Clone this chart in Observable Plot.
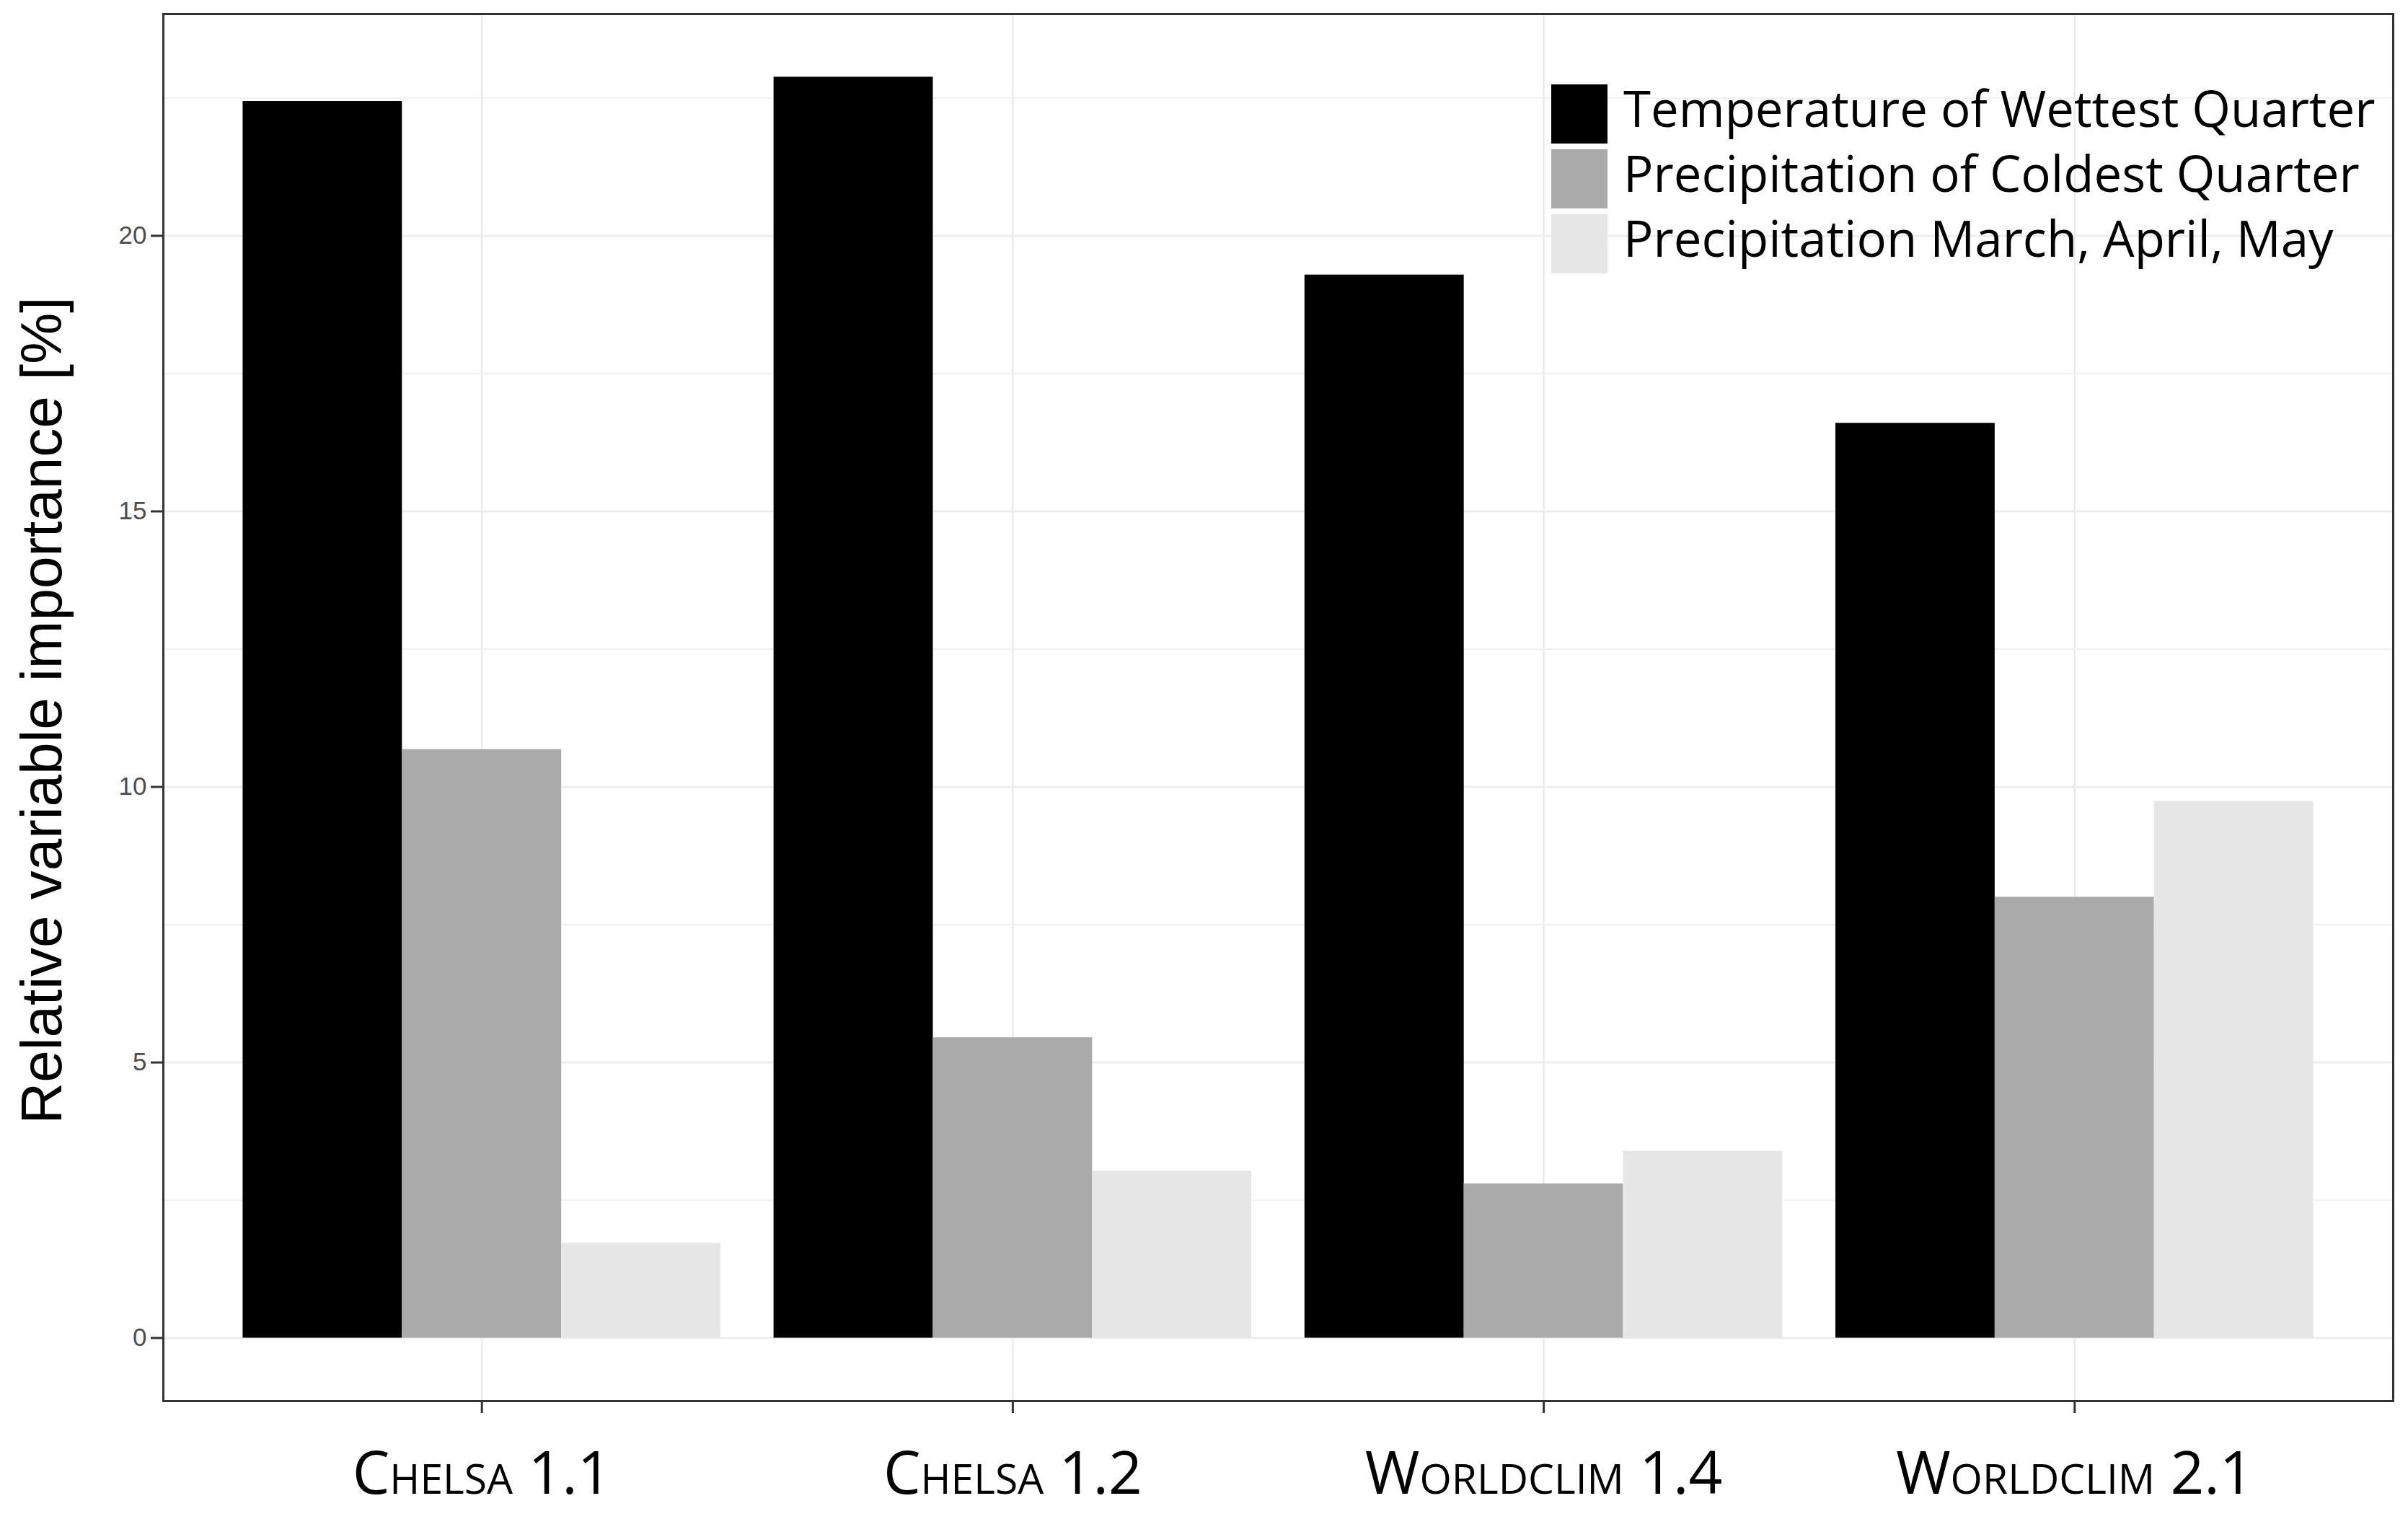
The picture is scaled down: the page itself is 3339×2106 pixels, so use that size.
<!DOCTYPE html>
<html>
<head>
<meta charset="utf-8">
<script src="https://cdn.jsdelivr.net/npm/d3@7"></script>
<script src="https://cdn.jsdelivr.net/npm/@observablehq/plot@0.6"></script>
<style>
  html, body { margin: 0; padding: 0; background: #fff; }
  #wrap { position: relative; width: 3339px; height: 2106px; overflow: hidden; background: #fff; }
  #chart svg { display: block; }
  #ytitle {
    position: absolute; left: 58px; top: 985px;
    transform: translate(-50%, -50%) rotate(-90deg);
    white-space: nowrap; font-family: "Liberation Sans", Arial, sans-serif; font-size: 80px; color: #000; line-height: 1;
  }
  #legend { position: absolute; left: 2151px; top: 117px; font-family: "Open Sans", sans-serif; font-size: 69px; color: #000; }
  #legend .row { display: flex; align-items: center; height: 82px; margin-bottom: 8px; }
  #legend .key { width: 78px; height: 82px; margin-right: 22px; flex: none; }
  #legend .lab { white-space: nowrap; line-height: 1; position: relative; top: -9px; }
  [aria-label^="x-axis"] text {
    font-family: "Open Sans", sans-serif; font-size: 82px; font-variant: small-caps; fill: #000;
  }
  [aria-label^="y-axis"] text {
    font-family: "Liberation Sans", Arial, sans-serif; font-size: 35px; fill: #4d4d4d;
  }
  [aria-label^="x-axis"] path, [aria-label^="x-axis"] line,
  [aria-label^="y-axis"] path, [aria-label^="y-axis"] line { stroke: #333; stroke-width: 3px; }
</style>
</head>
<body>
<div id="wrap">
  <div id="chart"></div>
  <div id="ytitle">Relative variable importance [%]</div>
  <div id="legend"></div>
</div>
<script>
// ---- data ----
const datasets = ["Chelsa 1.1", "Chelsa 1.2", "Worldclim 1.4", "Worldclim 2.1"];
const variables = ["Temperature of Wettest Quarter", "Precipitation of Coldest Quarter", "Precipitation March, April, May"];
const tempWettestQuarter = [22.44, 22.88, 19.29, 16.60];
const precColdestQuarter = [10.68, 5.45, 2.80, 8.00];
const precMarAprMay = [1.72, 3.03, 3.39, 9.74];
const yTicks = [0, 5, 10, 15, 20];
const yMinorTicks = [2.5, 7.5, 12.5, 17.5, 22.5];
const fills = ["#000000", "#aaaaaa", "#e6e6e6"];

// ---- table for the library (dodged bars, like ggplot position_dodge(0.9)) ----
const series = [tempWettestQuarter, precColdestQuarter, precMarAprMay];
const dodge = 0.9;
const rows = [];
datasets.forEach((d, i) => {
  variables.forEach((v, j) => {
    const x1 = i - dodge / 2 + j * dodge / variables.length;
    rows.push({dataset: d, variable: v, value: series[j][i], x1, x2: x1 + dodge / variables.length});
  });
});
const maxVal = d3.max(rows, d => d.value);
const pad = maxVal * 0.05;

const W = 3339, H = 2106;
const chart = Plot.plot({
  width: W, height: H,
  marginLeft: 226, marginRight: 21, marginTop: 19, marginBottom: 164,
  style: {background: "#fff", color: "#333", fontFamily: "Open Sans", fontSize: "30px", overflow: "visible"},
  x: {domain: [-0.6, datasets.length - 1 + 0.6], ticks: d3.range(datasets.length), tickFormat: i => datasets[i],
      tickSize: 17, tickPadding: 53, label: null},
  y: {domain: [-pad, maxVal + pad], ticks: yTicks, tickSize: 17, tickPadding: 6, label: null},
  color: {domain: variables, range: fills},
  marks: [
    Plot.ruleY(yMinorTicks, {stroke: "#ebebeb", strokeWidth: 1.6}),
    Plot.ruleY(yTicks, {stroke: "#ebebeb", strokeWidth: 2.6}),
    Plot.ruleX(d3.range(datasets.length), {stroke: "#ebebeb", strokeWidth: 2.6}),
    Plot.rect(rows, {x1: "x1", x2: "x2", y1: 0, y2: "value", fill: "variable"}),
    Plot.frame({stroke: "#333", strokeWidth: 3})
  ]
});
document.getElementById("chart").appendChild(chart);

// ---- legend (inside panel, top right) ----
const legend = d3.select("#legend");
variables.forEach((v, j) => {
  const row = legend.append("div").attr("class", "row");
  row.append("div").attr("class", "key").style("background", fills[j]);
  row.append("div").attr("class", "lab").text(v);
});
</script>
</body>
</html>
